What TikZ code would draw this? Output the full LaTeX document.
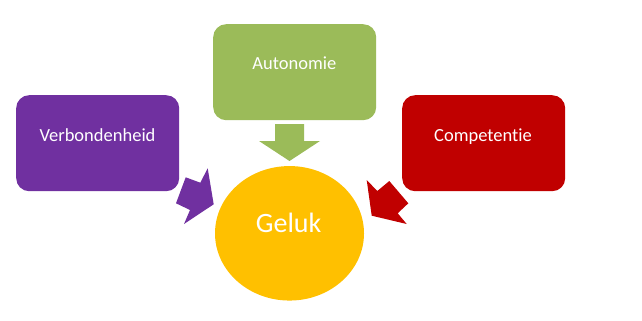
\documentclass[tikz,border=0pt]{standalone}
\usepackage{fontspec}
\setmainfont{Carlito}[Ligatures=NoCommon]
\usetikzlibrary{shapes.geometric}
\definecolor{cpurple}{HTML}{7030A0}
\definecolor{cgreen}{HTML}{9BBB59}
\definecolor{cred}{HTML}{C00000}
\definecolor{cyellow}{HTML}{FFC000}
\tikzset{
  boxshape/.style={rectangle, rounded corners=13pt, minimum width=163pt, minimum height=96pt, inner sep=0pt, draw=none},
  boxtext/.style={text=white, anchor=base, inner sep=0pt, font=\fontsize{18.5}{22}\selectfont},
  bigtext/.style={text=white, anchor=base, inner sep=0pt, font=\fontsize{28}{33}\selectfont},
}
\begin{document}
\begin{tikzpicture}[x=1pt,y=-1pt]
\useasboundingbox (0,0) rectangle (642,321);
% boxes
\node[boxshape, fill=cgreen, anchor=north west] (auto) at (213,24) {};
\node[boxshape, fill=cpurple, anchor=north west] (verb) at (16,95) {};
\node[boxshape, fill=cred, anchor=north west] (comp) at (402,95) {};
\node[ellipse, fill=cyellow, minimum width=149pt, minimum height=134.5pt, inner sep=0pt] (geluk) at (289.5,233.3) {};
% texts
\node[boxtext] (autot) at (294.3,70) {Autonomie};
\node[boxtext] (verbt) at (97.5,141) {Verbondenheid};
\node[boxtext] (compt) at (483,141) {Competentie};
\node[bigtext] (gelukt) at (288.7,232.7) {Geluk};
% block arrows
\fill[cgreen] (275,124) -- (304,124) -- (304,141) -- (320,141) -- (289.5,161)
  -- (259,141) -- (275,141) -- cycle;
\fill[cpurple] (213.7,204.3) -- (207.7,168.3) -- (200.3,182.7) -- (185.7,177.3)
  -- (176,203.3) -- (190,210) -- (184,224) -- cycle;
\fill[cred] (371.7,215.7) -- (366.7,180) -- (377.3,191) -- (389.3,181)
  -- (408.3,203.3) -- (397.7,213.3) -- (406.7,224) -- cycle;
\end{tikzpicture}
\end{document}
